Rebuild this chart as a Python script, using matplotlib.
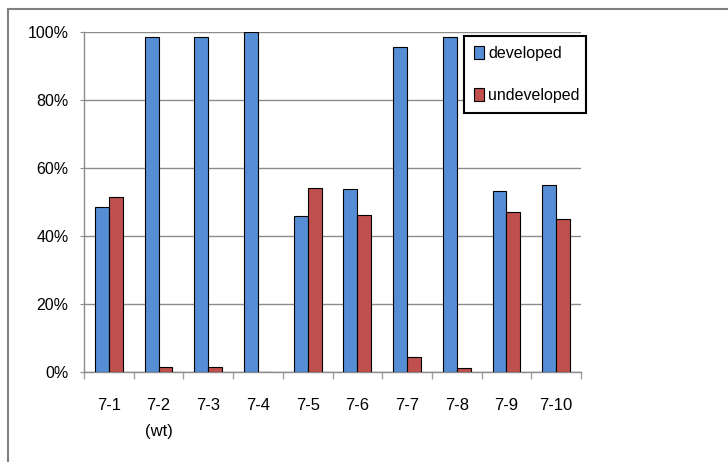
import matplotlib.pyplot as plt
import numpy as np
from matplotlib.lines import Line2D
from matplotlib.ticker import FuncFormatter

categories = ['7-1', '7-2\n(wt)', '7-3', '7-4', '7-5', '7-6', '7-7', '7-8', '7-9', '7-10']
developed = [48.4, 98.6, 98.6, 100.0, 46.0, 53.7, 95.7, 98.6, 53.1, 54.9]
undeveloped = [51.6, 1.4, 1.4, 0.0, 54.0, 46.3, 4.3, 1.1, 47.0, 45.0]

plt.rcParams['font.family'] = ['Liberation Sans', 'DejaVu Sans']

fig = plt.figure(figsize=(7.28, 4.62), dpi=100)
ax = fig.add_axes([84/728, 1 - 372/462, (581-84)/728, (372-32)/462])

x = np.arange(len(categories))
w = 0.28
ax.bar(x - w/2, developed, w, color='#558ed5', edgecolor='black', linewidth=0.8,
       label='developed', zorder=3)
ax.bar(x + w/2, undeveloped, w, color='#c0504d', edgecolor='black', linewidth=0.8,
       label='undeveloped', zorder=3)

ax.set_xlim(-0.5, len(categories) - 0.5)
ax.set_ylim(0, 100)
ax.set_yticks(np.arange(0, 101, 20))
ax.yaxis.set_major_formatter(FuncFormatter(lambda v, p: f'{int(v)}%'))
ax.grid(axis='y', color='#8c8c8c', linewidth=1, zorder=0)

ax.set_xticks(x)
ax.set_xticklabels(categories, va='top', linespacing=1.9)
ax.set_xticks(np.arange(-0.5, len(categories), 1), minor=True)
ax.tick_params(axis='x', which='major', length=0, pad=19, labelsize=12)
ax.tick_params(axis='x', which='minor', length=5, color='#a0a0a0', width=1)
ax.tick_params(axis='y', length=3, color='#8c8c8c', pad=8, labelsize=11.5)

for s in ['top', 'right']:
    ax.spines[s].set_visible(False)
for s in ['left', 'bottom']:
    ax.spines[s].set_color('#8c8c8c')
    ax.spines[s].set_linewidth(1)

leg = ax.legend(loc='upper left', bbox_to_anchor=(464/728, 1 - 114/462, 122/728, 78/462),
                bbox_transform=fig.transFigure, mode='expand', fancybox=False,
                framealpha=1, edgecolor='black', fontsize=11.5, labelspacing=1.7,
                handlelength=0.65, handleheight=0.9, handletextpad=0.25,
                borderaxespad=0, borderpad=0.6)
leg.get_frame().set_linewidth(1.5)

# outer frame (left and top edges)
fig.add_artist(Line2D([8/728, 8/728], [0, 1 - 9/462], color='#808080', linewidth=1.5))
fig.add_artist(Line2D([8/728, 1], [1 - 9/462, 1 - 9/462], color='#808080', linewidth=1.5))

fig.savefig('out.png', dpi=100)
